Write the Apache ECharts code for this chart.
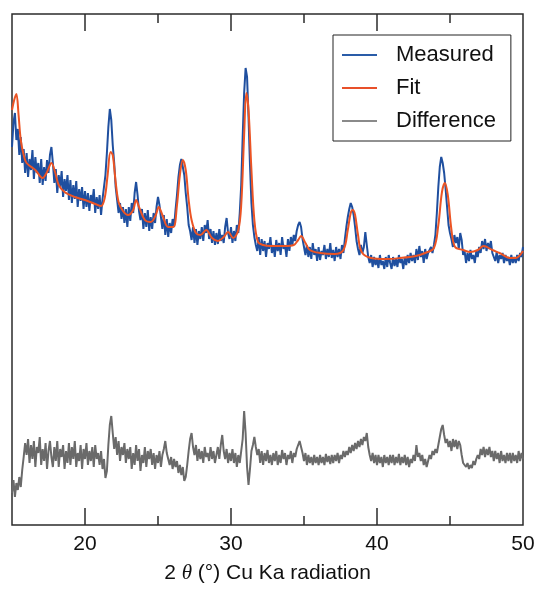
<!DOCTYPE html>
<html>
<head>
<meta charset="utf-8">
<script src="https://cdn.jsdelivr.net/npm/echarts@6/dist/echarts.min.js"></script>
<style>html,body{margin:0;padding:0;background:#fff;}#chart{width:540px;height:591px;}</style>
</head>
<body>
<div id="chart"></div>
<script>
// 2-theta grid of the scan (start 15°, step 0.1°, 351 points)
const scanStart = 15;
const scanStep = 0.1;
// Measured intensity (a.u.)
const measured = [
378,402,412,385,396,370,388,362,376,352,
372,348,366,355,375,346,368,352,362,342,
366,340,358,344,365,352,370,378,362,342,
356,332,350,338,354,328,346,334,350,325,
345,322,340,326,344,318,336,324,338,316,
334,318,332,314,330,322,336,312,328,316,
330,310,326,338,350,372,398,416,405,380,
362,338,325,312,322,306,318,302,316,298,
318,304,322,312,332,343,330,314,305,316,
296,312,298,315,294,308,296,312,302,318,
328,320,308,296,310,290,306,288,302,292,
306,298,315,330,348,360,366,364,350,332,
318,300,294,285,298,282,296,280,294,286,
298,284,300,292,305,286,296,282,294,280,
292,281,296,284,290,282,298,307,292,286,
298,282,294,284,300,292,312,340,388,432,
457,448,408,360,322,300,288,280,274,288,
270,286,274,284,268,282,276,288,272,280,
268,285,274,282,270,288,276,280,268,286,
274,288,280,290,284,294,300,303,298,286,
284,270,280,268,278,266,282,270,276,264,
278,265,274,270,280,266,276,268,282,267,
275,264,278,268,276,266,280,272,286,298,
308,316,322,318,310,298,284,276,270,280,
272,278,293,280,268,262,270,258,268,260,
266,257,270,260,264,256,268,258,270,262,
256,268,259,266,258,270,262,266,256,268,
260,270,262,272,264,270,262,276,265,279,
268,274,262,276,266,272,270,278,272,280,
290,312,338,358,368,362,352,336,318,300,
292,286,278,290,282,288,276,292,285,270,
274,262,272,264,275,266,270,262,274,268,
278,272,284,276,286,274,282,276,284,272,
270,264,273,262,270,266,272,262,270,264,
268,260,270,262,268,262,270,264,272,268,
278
];
// Difference curve (offset, a.u.)
const difference = [
32,45,28,42,35,48,38,55,68,82,
70,86,62,80,66,84,58,78,72,88,
60,76,64,82,56,74,84,68,58,78,
64,84,58,76,68,80,56,74,62,82,
60,78,66,84,58,72,64,80,56,76,
66,82,60,74,64,78,58,80,66,72,
60,74,56,66,47,54,80,100,109,92,
76,88,70,84,64,78,70,82,62,76,
66,78,56,72,60,80,64,76,54,70,
62,78,58,74,66,76,60,72,56,70,
62,74,58,70,76,84,72,66,60,68,
56,66,58,64,52,60,50,58,44,48,
60,74,86,92,78,70,80,64,76,66,
74,62,78,68,72,64,78,66,74,62,
70,78,66,80,90,74,66,76,62,72,
64,76,62,72,58,70,62,74,86,114,
92,58,40,56,74,80,88,78,70,76,
62,74,60,72,64,75,62,70,60,72,
64,74,60,70,62,75,66,72,60,70,
66,74,62,72,68,76,74,84,78,72,
64,72,60,70,62,68,60,70,62,68,
60,70,62,68,60,71,63,69,61,70,
62,70,64,72,62,70,66,74,68,74,
70,78,72,80,74,82,76,84,78,86,
80,88,84,92,78,70,64,72,62,70,
60,70,62,68,58,70,62,68,60,70,
62,70,60,68,62,71,60,68,62,70,
60,68,58,66,62,70,64,80,68,72,
64,70,60,66,58,64,70,66,74,70,
76,72,80,88,96,100,90,82,86,78,
84,74,86,78,85,76,84,80,70,62,
64,58,62,56,60,57,64,60,66,70,
66,76,70,78,68,76,70,78,68,74,
64,74,66,72,62,74,64,70,62,72,
64,72,62,72,64,70,62,74,64,72,
66
];
// Fit curve: 2-theta positions and intensities
const fitX = [15.0,15.15,15.3,15.45,15.6,15.8,16.0,16.6,17.1,17.4,17.7,17.95,18.2,18.6,19.3,20.0,20.7,21.1,21.35,21.55,21.75,21.9,22.1,22.3,22.6,22.95,23.3,23.5,23.7,24.1,24.5,24.85,25.05,25.3,25.7,26.05,26.3,26.5,26.7,26.9,27.1,27.3,27.6,27.9,28.3,28.7,29.1,29.5,29.8,30.15,30.5,30.7,30.9,31.05,31.2,31.4,31.6,31.85,32.2,32.7,33.7,34.3,34.6,34.8,35.1,35.4,36.1,37.1,37.7,38.0,38.2,38.35,38.5,38.7,38.95,39.6,40.6,41.6,42.65,43.3,43.9,44.2,44.45,44.65,44.85,45.1,45.35,45.9,46.4,46.9,47.3,47.9,48.4,49.1,49.5,50.0];
const fitY = [415,425,431,410,385,370,362,355,347,353,362,353,340,333,328,325,321,319,327,350,373,370,343,323,314,310,315,325,318,305,303,310,318,310,298,298,320,350,365,355,325,305,292,290,295,287,284,288,293,287,295,320,390,432,415,355,305,283,280,279,279,280,285,289,282,275,272,271,275,295,312,315,310,290,273,267,266,267,269,272,277,300,333,342,330,295,278,275,273,275,279,275,272,267,267,274];
// Axis ticks
const tickLabels = [20, 30, 40, 50];
const majorTicks = [20, 30, 40];
const minorTicks = [25, 35, 45];
const seriesNames = ['Measured', 'Fit', 'Difference'];

const angles = measured.map((_, i) => +(scanStart + i * scanStep).toFixed(1));
const measPairs = measured.map((v, i) => [angles[i], v]);
const diffPairs = difference.map((v, i) => [angles[i], v]);
const fitPairs = fitX.map((x, i) => [x, fitY[i]]);

const FONT = '"Liberation Sans", Arial, Helvetica, sans-serif';
const AX = '#2b2b2b';

function xAx(pos, ticks, len, labels, extra) {
  return Object.assign({
    type: 'value', position: pos, min: 15, max: 50,
    axisLine: { show: false },
    splitLine: { show: false },
    axisTick: { show: true, inside: true, length: len, customValues: ticks, lineStyle: { color: AX, width: 1.5 } },
    axisLabel: labels ? { show: true, customValues: labels, fontSize: 21, color: '#111', fontFamily: FONT, margin: 9 } : { show: false }
  }, extra || {});
}

const chart = echarts.init(document.getElementById('chart'), null, { renderer: 'canvas' });
chart.setOption({
  animation: false,
  backgroundColor: '#fff',
  grid: { left: 12, right: 17, top: 14, bottom: 66, show: true, borderColor: AX, borderWidth: 1.5, backgroundColor: 'transparent', containLabel: false },
  xAxis: [
    xAx('bottom', majorTicks, 17, tickLabels, {
      name: '{a|2 }{t|θ}{a| (°) Cu Ka radiation}',
      nameLocation: 'middle', nameGap: 38,
      nameTextStyle: { rich: { a: { fontSize: 21, fontFamily: FONT, color: '#111' }, t: { fontSize: 21, fontFamily: '"Liberation Serif", "DejaVu Serif", serif', fontStyle: 'italic', color: '#111' } } }
    }),
    xAx('bottom', minorTicks, 9, null),
    xAx('top', majorTicks, 17, null),
    xAx('top', minorTicks, 9, null)
  ],
  yAxis: { type: 'value', min: 0, max: 511, show: true, axisLine: { show: false }, axisTick: { show: false }, axisLabel: { show: false }, splitLine: { show: false } },
  legend: {
    data: seriesNames,
    orient: 'vertical', left: 333, top: 35,
    padding: [8, 15, 8, 9],
    borderColor: '#222', borderWidth: 1, backgroundColor: '#fff', borderRadius: 0,
    icon: 'rect', itemWidth: 35, itemHeight: 2, itemGap: 9,
    textStyle: { fontSize: 22, lineHeight: 24, color: '#111', fontFamily: FONT, padding: [0, 0, 0, 14] }
  },
  series: [
    { name: seriesNames[0], type: 'line', data: measPairs, showSymbol: false, symbol: 'none', lineStyle: { color: '#1f4f9f', width: 2 }, itemStyle: { color: '#2a5ca8' }, z: 2 },
    { name: seriesNames[1], type: 'line', data: fitPairs, showSymbol: false, symbol: 'none', smooth: 0.35, lineStyle: { color: '#ec5424', width: 2 }, itemStyle: { color: '#e8502a' }, z: 3 },
    { name: seriesNames[2], type: 'line', data: diffPairs, showSymbol: false, symbol: 'none', lineStyle: { color: '#6a6a6a', width: 2 }, itemStyle: { color: '#8a8a8a' }, z: 2 }
  ]
});
</script>
</body>
</html>
